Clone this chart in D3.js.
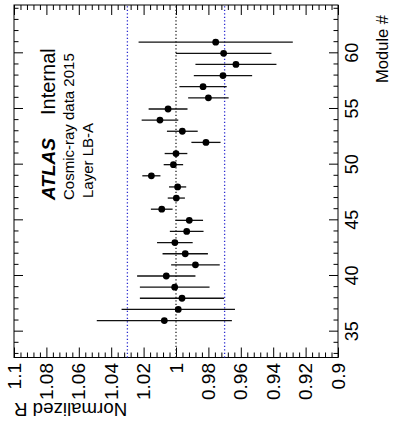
<!DOCTYPE html>
<html>
<head>
<meta charset="utf-8">
<script src="https://cdn.jsdelivr.net/npm/d3@7"></script>
<style>
  body { margin: 0; background: #fff; }
  svg { display: block; font-family: "Liberation Sans", Arial, Helvetica, sans-serif; }
</style>
</head>
<body>
<svg id="chart" width="393" height="430"></svg>
<script>
// data (module number, normalized R, uncertainty)
const modules = [61, 60, 59, 58, 57, 56, 55, 54, 53, 52, 51, 50, 49,
                 48, 47, 46, 45, 44, 43, 42, 41, 40, 39, 38, 37, 36];
const ratio = [0.9755, 0.9706, 0.963, 0.971, 0.9833, 0.980, 1.0049, 1.0099, 0.9961, 0.9815, 1.000, 1.0016, 1.0152,
               0.999, 0.9998, 1.0088, 0.9918, 0.9934, 1.0007, 0.9943, 0.988, 1.006, 1.0008, 0.9963, 0.9986, 1.0072];
const ratioErr = [0.0476, 0.0295, 0.025, 0.018, 0.0146, 0.0125, 0.012, 0.0113, 0.0095, 0.009, 0.007, 0.006, 0.0056,
                  0.0053, 0.0053, 0.0067, 0.0085, 0.0104, 0.011, 0.014, 0.015, 0.018, 0.0215, 0.026, 0.035, 0.0417];

const moduleTicks = [35, 40, 45, 50, 55, 60];
const rTicks = [0.9, 0.92, 0.94, 0.96, 0.98, 1.0, 1.02, 1.04, 1.06, 1.08, 1.1];
const refLines = [1.03, 1.0, 0.97];

// the plot is drawn the ROOT way and then turned a quarter turn
const W = 430, H = 393;
const frame = { left: 72.5, right: 425, top: 14, bottom: 338 };

const svg = d3.select("#chart");
const g = svg.append("g").attr("transform", `translate(0,${W}) rotate(-90)`);

const x = d3.scaleLinear().domain([32.68, 64.34]).range([frame.left, frame.right]);
const y = d3.scaleLinear().domain([0.9, 1.1]).range([frame.bottom, frame.top]);

const fmtR = d => String(+d.toFixed(2));

// minor ticks
const minorM = d3.range(33, 65).filter(d => d % 5 !== 0);
const minorR = d3.range(0, 51).map(k => +(0.9 + k * 0.004).toFixed(3)).filter(d => Math.round(d * 1000) % 20 !== 0);

function styleAxis(sel) {
  sel.select(".domain").remove();
  sel.selectAll("line").attr("stroke", "#000").attr("stroke-width", 1);
  sel.selectAll("text").attr("fill", "#000");
}

// module axis (bottom labels, top ticks only)
g.append("g").attr("transform", `translate(0,${frame.bottom})`)
  .call(d3.axisBottom(x).tickValues(moduleTicks).tickSize(-9).tickPadding(7).tickFormat(d3.format("d")))
  .call(styleAxis).attr("font-size", 18).attr("font-family", null);
g.append("g").attr("transform", `translate(0,${frame.bottom})`)
  .call(d3.axisBottom(x).tickValues(minorM).tickSize(-4.5).tickFormat(""))
  .call(styleAxis);
g.append("g").attr("transform", `translate(0,${frame.top})`)
  .call(d3.axisTop(x).tickValues(moduleTicks).tickSize(-9).tickFormat(""))
  .call(styleAxis);
g.append("g").attr("transform", `translate(0,${frame.top})`)
  .call(d3.axisTop(x).tickValues(minorM).tickSize(-4.5).tickFormat(""))
  .call(styleAxis);

// normalized R axis
g.append("g").attr("transform", `translate(${frame.left},0)`)
  .call(d3.axisLeft(y).tickValues(rTicks).tickSize(-10).tickPadding(5.5).tickFormat(fmtR))
  .call(styleAxis).attr("font-size", 19).attr("font-family", null);
g.append("g").attr("transform", `translate(${frame.left},0)`)
  .call(d3.axisLeft(y).tickValues(minorR).tickSize(-5).tickFormat(""))
  .call(styleAxis);
g.append("g").attr("transform", `translate(${frame.right},0)`)
  .call(d3.axisRight(y).tickValues(rTicks).tickSize(-10).tickFormat(""))
  .call(styleAxis);
g.append("g").attr("transform", `translate(${frame.right},0)`)
  .call(d3.axisRight(y).tickValues(minorR).tickSize(-5).tickFormat(""))
  .call(styleAxis);

// frame
g.append("rect")
  .attr("x", frame.left).attr("y", frame.top)
  .attr("width", frame.right - frame.left).attr("height", frame.bottom - frame.top)
  .attr("fill", "none").attr("stroke", "#000").attr("stroke-width", 1);

// reference lines
g.selectAll(".ref").data(refLines).enter().append("line")
  .attr("class", "ref")
  .attr("x1", frame.left).attr("x2", frame.right)
  .attr("y1", d => y(d)).attr("y2", d => y(d))
  .attr("stroke", d => d === 1 ? "#222" : "#2a2ad0")
  .attr("stroke-width", 1.3)
  .attr("stroke-dasharray", "1.3,2.2");

// error bars and markers
const pts = modules.map((m, i) => ({ m, r: ratio[i], e: ratioErr[i] }));
g.selectAll(".err").data(pts).enter().append("line")
  .attr("class", "err")
  .attr("x1", d => x(d.m)).attr("x2", d => x(d.m))
  .attr("y1", d => y(d.r - d.e)).attr("y2", d => y(d.r + d.e))
  .attr("stroke", "#111").attr("stroke-width", 1.3);
g.selectAll(".pt").data(pts).enter().append("circle")
  .attr("class", "pt")
  .attr("cx", d => x(d.m)).attr("cy", d => y(d.r))
  .attr("r", 3.4).attr("fill", "#000");

// axis titles
g.append("text")
  .attr("x", 415).attr("y", 388)
  .attr("text-anchor", "end").attr("font-size", 16.5)
  .text("Module #");
g.append("text")
  .attr("transform", `translate(27,${frame.top}) rotate(-90)`)
  .attr("text-anchor", "end").attr("font-size", 18.7)
  .text("Normalized R");

// ATLAS label
g.append("text")
  .attr("x", 230).attr("y", 55)
  .attr("font-size", 19).attr("font-weight", "bold").attr("font-style", "italic")
  .text("ATLAS");
g.append("text")
  .attr("x", 315).attr("y", 55)
  .attr("font-size", 20)
  .text("Internal");
g.append("text")
  .attr("x", 230).attr("y", 74)
  .attr("font-size", 15)
  .text("Cosmic-ray data 2015");
g.append("text")
  .attr("x", 232).attr("y", 93)
  .attr("font-size", 15)
  .text("Layer LB-A");
</script>
</body>
</html>
